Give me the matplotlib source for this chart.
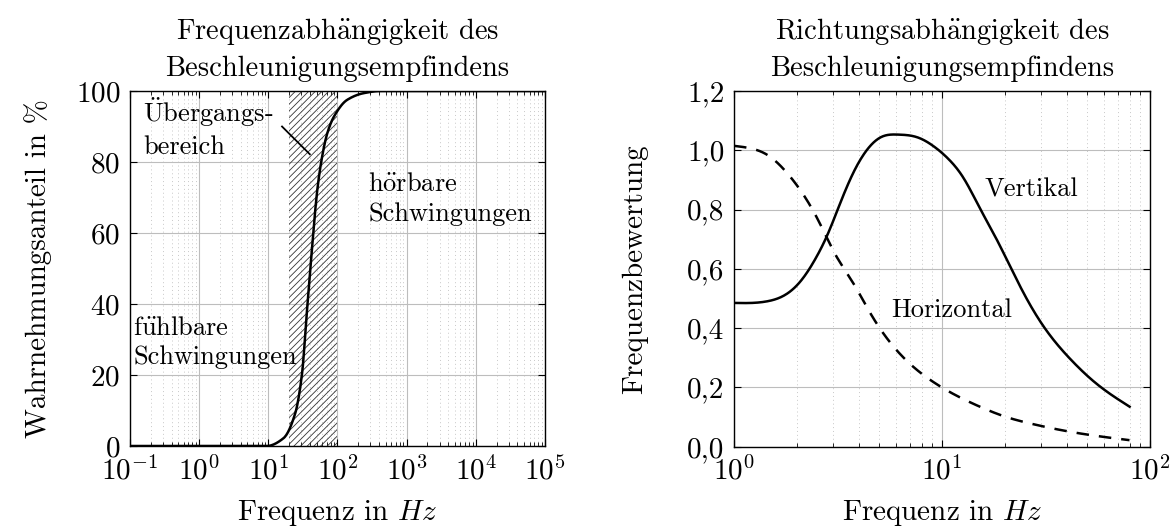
import numpy as np
import matplotlib.pyplot as plt
from matplotlib.ticker import LogLocator, FixedLocator

plt.rcParams['font.family'] = ['cmr10', 'DejaVu Serif']
plt.rcParams['mathtext.fontset'] = 'cm'
plt.rcParams['axes.formatter.use_mathtext'] = True
plt.rcParams['font.size'] = 21
plt.rcParams['axes.titlesize'] = 20.5
plt.rcParams['hatch.linewidth'] = 0.6

# umlauts drawn via mathtext (cmr10 has no precomposed umlauts)
AE = r'$\mathrm{\ddot{a}}$'
OE = r'$\mathrm{\ddot{o}}$'
UE = r'$\mathrm{\ddot{u}}$'
UE_CAP = r'$\mathrm{\ddot{U}}$'

# Left chart: perception share over frequency
f_left = [0.1, 9.5, 16.6, 24.5, 30.8, 36, 43, 51, 60, 71, 89, 138, 240, 420, 1e5]
share = [0, 0, 2.2, 9.2, 20.5, 37.4, 56, 72, 81.5, 88, 92.8, 97.5, 99.4, 100, 100]
band = (20, 100)

# Right chart: frequency weighting
f_vert = [1, 1.457, 1.75, 2.11, 2.44, 2.83, 3.28, 3.80, 4.41, 5.11, 6.14, 7.67, 9.22,
          10.9, 12.6, 15.2, 18.3, 21.2, 25.5, 31.2, 41.1, 55.2, 79.8]
w_vert = [0.485, 0.491, 0.511, 0.562, 0.629, 0.719, 0.831, 0.933, 1.006, 1.045, 1.053,
          1.043, 1.011, 0.966, 0.91, 0.805, 0.70, 0.61, 0.50, 0.40, 0.298, 0.213, 0.135]
f_hor = [1, 1.21, 1.457, 1.75, 2.11, 2.54, 3.05, 3.67, 4.58, 6.48, 9.05, 15.2, 20.4,
         26.3, 45.8, 79.7]
w_hor = [1.015, 1.006, 0.983, 0.933, 0.86, 0.764, 0.652, 0.562, 0.444, 0.303, 0.219,
         0.135, 0.1, 0.079, 0.045, 0.022]


def pchip(x, y, n=500):
    # monotone cubic interpolation in log-x
    lx = np.log10(x)
    y = np.array(y, dtype=float)
    t = np.linspace(lx[0], lx[-1], n)
    h = np.diff(lx)
    d = np.diff(y) / h
    m = np.zeros(len(y))
    m[0], m[-1] = d[0], d[-1]
    for i in range(1, len(y) - 1):
        if d[i - 1] * d[i] <= 0:
            m[i] = 0
        else:
            w1 = 2 * h[i] + h[i - 1]
            w2 = h[i] + 2 * h[i - 1]
            m[i] = (w1 + w2) / (w1 / d[i - 1] + w2 / d[i])
    k = np.clip(np.searchsorted(lx, t) - 1, 0, len(lx) - 2)
    s = (t - lx[k]) / h[k]
    h00 = 2 * s**3 - 3 * s**2 + 1
    h10 = s**3 - 2 * s**2 + s
    h01 = -2 * s**3 + 3 * s**2
    h11 = s**3 - s**2
    yy = h00 * y[k] + h10 * h[k] * m[k] + h01 * y[k + 1] + h11 * h[k] * m[k + 1]
    return 10**t, yy


def spline(x, y, n=500):
    # natural cubic spline in log-x
    lx = np.log10(x)
    y = np.array(y, dtype=float)
    N = len(lx)
    h = np.diff(lx)
    A = np.zeros((N, N))
    b = np.zeros(N)
    A[0, 0] = A[-1, -1] = 1
    for i in range(1, N - 1):
        A[i, i - 1] = h[i - 1]
        A[i, i] = 2 * (h[i - 1] + h[i])
        A[i, i + 1] = h[i]
        b[i] = 6 * ((y[i + 1] - y[i]) / h[i] - (y[i] - y[i - 1]) / h[i - 1])
    M = np.linalg.solve(A, b)
    t = np.linspace(lx[0], lx[-1], n)
    k = np.clip(np.searchsorted(lx, t) - 1, 0, N - 2)
    a = lx[k + 1] - t
    c = t - lx[k]
    hk = h[k]
    yy = (M[k] * a**3 / (6 * hk) + M[k + 1] * c**3 / (6 * hk)
          + (y[k] / hk - M[k] * hk / 6) * a + (y[k + 1] / hk - M[k + 1] * hk / 6) * c)
    return 10**t, yy


fig = plt.figure(figsize=(11.75, 5.27), dpi=100)
ax1 = fig.add_axes([0.1106, 0.1537, 0.3532, 0.6736])
ax2 = fig.add_axes([0.6247, 0.1524, 0.3540, 0.6749])

for ax in (ax1, ax2):
    ax.set_xscale('log')
    ax.tick_params(which='both', direction='in', top=True, right=True)
    ax.tick_params(which='major', length=5, pad=7)
    ax.tick_params(which='minor', length=3)
    ax.grid(True, which='major', color='#bdbdbd', linewidth=0.8)
    ax.grid(True, which='minor', axis='x', color='#c8c8c8', linestyle=(0, (1, 3)), linewidth=0.7)
    ax.set_axisbelow(True)
    for sp in ax.spines.values():
        sp.set_linewidth(1.0)

# left
ax1.axvspan(band[0], band[1], facecolor='none', edgecolor='#333333', hatch='/////', linewidth=0)
xs, ys = pchip(f_left, share)
ax1.plot(xs, ys, color='black', linewidth=1.8)
ax1.set_xlim(0.1, 1e5)
ax1.set_ylim(0, 100)
ax1.xaxis.set_major_locator(LogLocator(base=10, numticks=10))
ax1.xaxis.set_minor_locator(LogLocator(base=10, subs=np.arange(2, 10), numticks=20))
ax1.set_yticks([0, 20, 40, 60, 80, 100])
ax1.set_xlabel(r'Frequenz in $Hz$', labelpad=9)
ax1.set_ylabel('Wahrnehmungsanteil in %', labelpad=17)
ax1.set_title('Frequenzabh' + AE + 'ngigkeit des\nBeschleunigungsempfindens', pad=11, linespacing=1.4)
ax1.plot([15.8, 39.8], [90, 82.2], color='black', linewidth=1.3)
ax1.text(0.031, 0.985, UE_CAP + 'bergangs-\nbereich', transform=ax1.transAxes, va='top', ha='left',
         linespacing=1.3, fontsize=19)
ax1.text(0.574, 0.77, 'h' + OE + 'rbare\nSchwingungen', transform=ax1.transAxes, va='top', ha='left',
         linespacing=1.3, fontsize=19)
ax1.text(0.008, 0.366, 'f' + UE + 'hlbare\nSchwingungen', transform=ax1.transAxes, va='top', ha='left',
         linespacing=1.3, fontsize=19)

# right
xs, ys = spline(f_vert, w_vert)
ax2.plot(xs, ys, color='black', linewidth=1.8)
xs, ys = spline(f_hor, w_hor)
ax2.plot(xs, ys, color='black', linewidth=1.8, linestyle=(0, (5, 4)))
ax2.set_xlim(1, 100)
ax2.set_ylim(0, 1.2)
ax2.xaxis.set_major_locator(FixedLocator([1, 10, 100]))
ax2.xaxis.set_minor_locator(LogLocator(base=10, subs=np.arange(2, 10), numticks=20))
yt = [0, 0.2, 0.4, 0.6, 0.8, 1.0, 1.2]
ax2.set_yticks(yt)
ax2.set_yticklabels([f'{v:.1f}'.replace('.', ',') for v in yt])
ax2.set_xlabel(r'Frequenz in $Hz$', labelpad=9)
ax2.set_ylabel('Frequenzbewertung', labelpad=28)
ax2.set_title('Richtungsabh' + AE + 'ngigkeit des\nBeschleunigungsempfindens', pad=11, linespacing=1.4)
ax2.text(0.603, 0.722, 'Vertikal', transform=ax2.transAxes, va='center', ha='left', fontsize=19)
ax2.text(0.377, 0.384, 'Horizontal', transform=ax2.transAxes, va='center', ha='left', fontsize=19)

fig.savefig('out.png', dpi=100)
